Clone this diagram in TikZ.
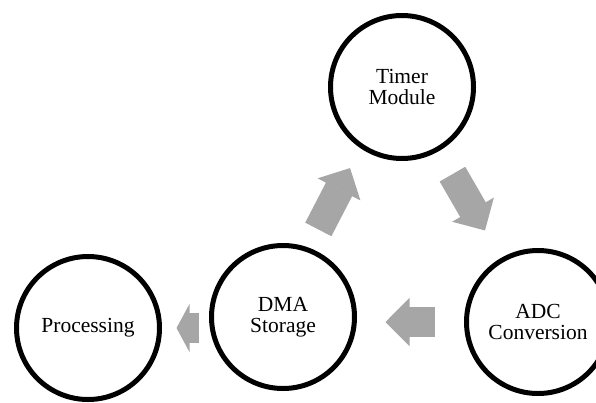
\documentclass[tikz,border=0pt]{standalone}
\definecolor{ArrowGray}{RGB}{166,166,166}
\usepackage{fontspec}
\setmainfont{Liberation Serif}
\usepackage{tikz}
\usetikzlibrary{arrows.meta, calc}

\begin{document}
\begin{tikzpicture}[x=1pt, y=-1pt,
    stage/.style={circle, draw, line width=5pt, minimum size=143pt, inner sep=0pt, align=center, font=\fontsize{21.5}{20.5}\selectfont},
    flow/.style={ArrowGray, line width=29.5pt, -{Triangle[width=48pt, length=24pt, line width=1.2pt]}}]
          \useasboundingbox (0,0) rectangle (596,402);
          \node[stage] (timer) at (402,87) {Timer\\Module};
          \node[stage] (adc) at (538,322) {ADC\\Conversion};
          \node[stage] (dma) at (283,317) {DMA\\Storage};
          \node[stage] (proc) at (88,328) {Processing};
          \draw[flow, shorten <=98.6pt, shorten >=91.3pt] ([xshift=-10pt]dma.center) -- ([xshift=-10pt]timer.center);
          \draw[flow, shorten <=100.7pt, shorten >=105.8pt] (timer.center) -- (adc.center);
          \draw[flow, shorten <=29.5pt, shorten >=28.5pt] (adc.west) -- (dma.east |- adc.west);
          \draw[flow, -{Triangle[width=48pt, length=13pt, line width=1.2pt]}, shorten <=10.5pt, shorten >=14.5pt] (dma.west |- proc.east) -- (proc.east);
        \end{tikzpicture}
\end{document}
